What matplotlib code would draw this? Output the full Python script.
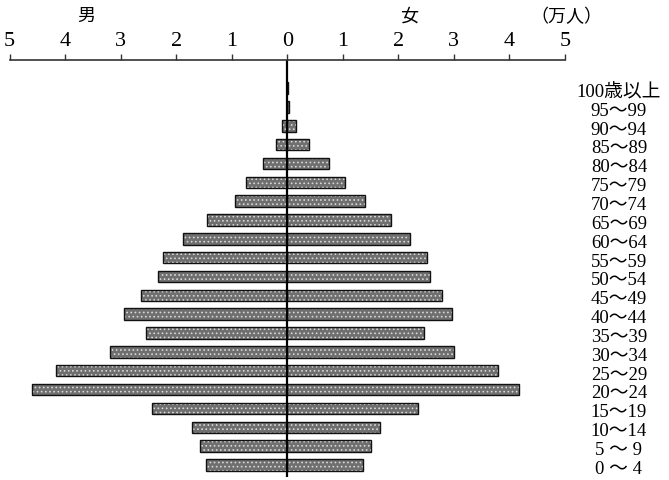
#!/usr/bin/env python
import numpy as np
import matplotlib.pyplot as plt

plt.rcParams['font.family'] = ['Liberation Serif', 'Noto Sans CJK JP']
plt.rcParams['hatch.linewidth'] = 0.7

# age groups, from the youngest (bottom) to the oldest (top)
ages = ["0 ～ 4", "5 ～ 9", "10～14", "15～19", "20～24", "25～29",
        "30～34", "35～39", "40～44", "45～49", "50～54", "55～59",
        "60～64", "65～69", "70～74", "75～79", "80～84", "85～89",
        "90～94", "95～99", "100歳以上"]
# population in 万人
male = [1.46, 1.57, 1.71, 2.44, 4.60, 4.17, 3.19, 2.55, 2.94, 2.63, 2.32,
        2.24, 1.88, 1.45, 0.94, 0.74, 0.44, 0.21, 0.09, 0.01, 0.0]
female = [1.36, 1.51, 1.67, 2.35, 4.17, 3.80, 3.00, 2.47, 2.97, 2.78, 2.57,
          2.52, 2.21, 1.86, 1.40, 1.04, 0.75, 0.40, 0.15, 0.035, 0.005]
ticks = [-5, -4, -3, -2, -1, 0, 1, 2, 3, 4, 5]
tick_labels = [str(abs(t)) for t in ticks]

W, H = 669, 481
fig = plt.figure(figsize=(W / 100., H / 100.), dpi=100)
# axes box in pixels: x from 9.5 to 565, y from 61 (axis line) down to 478
ax = fig.add_axes([9.5 / W, 1 - 478. / H, (565 - 9.5) / W, (478 - 61.) / H])

y = np.arange(len(ages))
h = 0.61


def pyramid_side(vals):
    # dark screen with light speckles, then a black outline on top
    ax.barh(y, vals, height=h, color='#6f6f6f', edgecolor='#d8d8d8',
            hatch='....', linewidth=0)
    ax.barh(y, vals, height=h, fill=False, edgecolor='#111111', linewidth=1.0)


pyramid_side(-np.array(male))
pyramid_side(female)
ax.axvline(0, color='black', lw=1.6)

ax.set_xlim(-5, 5)
ax.set_ylim(-0.64, 21.49)

for s in ['left', 'right', 'bottom']:
    ax.spines[s].set_visible(False)
ax.spines['top'].set_color('#333333')
ax.spines['top'].set_linewidth(1.2)
ax.set_yticks([])
ax.xaxis.tick_top()
ax.set_xticks(ticks)
ax.set_xticklabels(tick_labels)
ax.tick_params(axis='x', direction='out', length=4, width=1, color='#333333',
               pad=3.5, labelsize=16)

# age labels on the right
for i, a in enumerate(ages):
    ax.text(5.97, i - 0.18, a, ha='center', va='center', fontsize=13.5,
            clip_on=False)

# headings
fig.text(86. / W, 1 - 16. / H, "男", ha='center', va='center', fontsize=13,
         family='Noto Sans CJK JP')
fig.text(409. / W, 1 - 17. / H, "女", ha='center', va='center', fontsize=13,
         family='Noto Sans CJK JP')
fig.text(566. / W, 1 - 17. / H, "（万人）", ha='center', va='center',
         fontsize=13, family='Noto Sans CJK JP')

fig.savefig('out.png', dpi=100)
